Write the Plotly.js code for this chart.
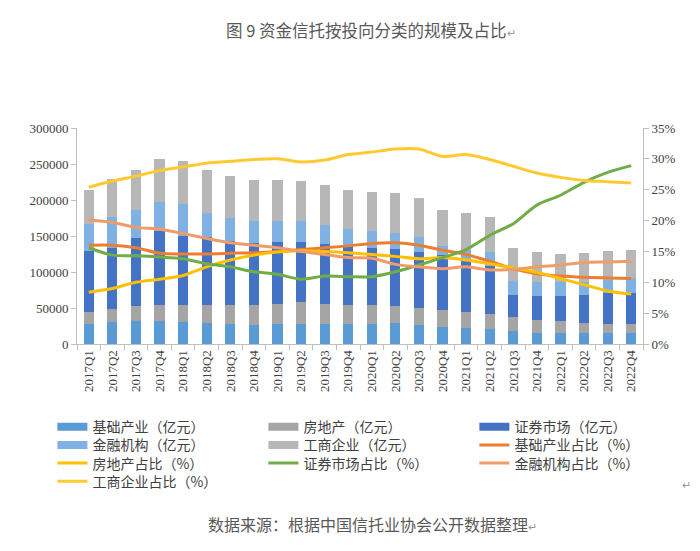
<!DOCTYPE html>
<html>
<head>
<meta charset="utf-8">
<script src="https://cdn.plot.ly/plotly-3.0.1.min.js"></script>
<style>
html,body{margin:0;padding:0;background:#fff;}
#chart{width:700px;height:551px;}
</style>
</head>
<body>
<div id="chart"></div>
<script>
const categories = ["2017Q1","2017Q2","2017Q3","2017Q4","2018Q1","2018Q2","2018Q3","2018Q4",
  "2019Q1","2019Q2","2019Q3","2019Q4","2020Q1","2020Q2","2020Q3","2020Q4",
  "2021Q1","2021Q2","2021Q3","2021Q4","2022Q1","2022Q2","2022Q3","2022Q4"];

// 规模（亿元）
const infraScale = [28200,30000,31400,31900,30500,28600,28200,26800,28200,28200,28200,28200,28200,28600,26800,24000,22200,21000,18500,15200,15200,15200,15200,15200];
const realEstateScale = [16100,18500,20800,22100,23500,25400,26300,27700,27200,29500,27700,26300,25800,24500,23500,22600,22600,20800,19400,18500,16200,13900,12500,12500];
const securitiesScale = [85000,85400,94600,103000,96500,94700,88600,85400,86800,84500,82600,82200,79900,78900,77100,77100,73200,66200,30400,33200,35500,39200,43300,43300];
const financeScale = [37800,42900,39300,40100,43400,33700,32300,31400,29100,29100,26300,23000,23100,22200,21300,13000,13000,20300,19400,19900,19100,17700,18500,20000];
const industryScale = [47100,51700,55400,60500,60000,59100,57300,56300,56300,55400,55400,54500,54500,55400,53500,49400,51100,47500,45300,40600,39400,40500,39800,39700];

// 占比（%）
const infraShare = [16.0,16.0,15.6,14.7,14.6,14.6,14.7,14.8,15.0,15.3,15.6,15.9,16.3,16.4,16.0,15.2,14.5,13.4,12.2,11.4,11.0,10.8,10.7,10.6];
const realEstateShare = [8.4,9.0,10.0,10.5,11.1,12.5,13.6,14.4,14.9,15.1,15.0,14.8,14.5,14.2,13.8,14.0,13.6,13.0,12.3,11.6,10.6,9.6,8.6,8.1];
const securitiesShare = [15.6,14.4,14.3,14.1,13.8,13.0,12.5,11.7,11.3,10.5,11.0,10.9,10.9,11.7,12.8,14.0,15.3,17.6,19.5,22.5,24.1,26.2,27.8,28.9];
const financeShare = [20.1,19.7,18.9,18.6,17.9,17.1,16.4,16.0,15.6,15.0,14.5,14.0,13.9,12.9,12.5,12.2,12.5,12.0,12.1,12.5,12.8,13.2,13.3,13.4];
const industryShare = [25.4,26.4,27.2,28.1,28.7,29.3,29.6,29.9,30.0,29.5,29.8,30.7,31.1,31.6,31.6,30.4,30.7,29.9,28.8,27.7,27.0,26.5,26.3,26.1];

const barSeries = [
  {name:"基础产业（亿元）", y:infraScale, color:"#5B9BD5", legend:"legend"},
  {name:"房地产（亿元）", y:realEstateScale, color:"#A5A5A5", legend:"legend"},
  {name:"证券市场（亿元）", y:securitiesScale, color:"#4472C4", legend:"legend"},
  {name:"金融机构（亿元）", y:financeScale, color:"#7FB1E3", legend:"legend2"},
  {name:"工商企业（亿元）", y:industryScale, color:"#B7B7B7", legend:"legend2"}
];
const lineSeries = [
  {name:"基础产业占比（%）", y:infraShare, color:"#ED7D31", legend:"legend2"},
  {name:"房地产占比（%）", y:realEstateShare, color:"#FFC000", legend:"legend3"},
  {name:"证券市场占比（%）", y:securitiesShare, color:"#70AD47", legend:"legend3"},
  {name:"金融机构占比（%）", y:financeShare, color:"#F09C68", legend:"legend3"},
  {name:"工商企业占比（%）", y:industryShare, color:"#FFCA30", legend:"legend4"}
];

const traces = [];
barSeries.forEach(s => traces.push({
  type:"bar", x:categories, y:s.y, name:s.name, marker:{color:s.color},
  showlegend:false, legendgroup:s.name, hoverinfo:"x+y+name"
}));
// legend entries for bars drawn as wide bands
barSeries.forEach(s => traces.push({
  type:"scatter", mode:"lines", x:[null], y:[null], name:s.name,
  line:{color:s.color, width:8}, legendgroup:s.name, showlegend:true, legend:s.legend
}));
lineSeries.forEach(s => traces.push({
  type:"scatter", mode:"lines", x:categories, y:s.y, name:s.name, yaxis:"y2", legend:s.legend,
  line:{color:s.color, width:3, shape:"spline", smoothing:0.8}
}));

const tickFont = {family:"'Times New Roman', 'Liberation Serif', 'DejaVu Serif', serif", size:13, color:"#404040"};
const legendFont = {family:"Noto Sans CJK SC, sans-serif", size:14, color:"#404040"};
const plotTop = 127.5, plotBottom = 344.5, plotH = plotBottom - plotTop;
function legendAt(centerY){
  return {orientation:"h", x:-0.0435, xanchor:"left", y:(plotBottom-(centerY-14.8))/plotH, yanchor:"top",
    font:legendFont, entrywidth:166, entrywidthmode:"pixels", itemwidth:30, traceorder:"normal",
    bgcolor:"rgba(0,0,0,0)"};
}
const layout = {
  width:700, height:551,
  paper_bgcolor:"#ffffff", plot_bgcolor:"#ffffff",
  margin:{l:77, r:57, t:plotTop, b:551-plotBottom, pad:0},
  barmode:"stack", bargap:0.57,
  showlegend:true,
  legend:legendAt(426.7),
  legend2:legendAt(445),
  legend3:legendAt(463.3),
  legend4:legendAt(481.5),
  xaxis:{type:"category", tickangle:-90, tickfont:tickFont, showline:true, linecolor:"#BFBFBF",
    linewidth:1, ticks:"outside", tickson:"boundaries", ticklen:5, tickcolor:"#BFBFBF",
    showgrid:false, zeroline:false},
  yaxis:{range:[0,300000], dtick:50000, tickformat:"d", tickfont:tickFont, showline:true,
    linecolor:"#BFBFBF", ticks:"outside", ticklen:5, tickcolor:"#BFBFBF", showgrid:false, zeroline:false},
  yaxis2:{overlaying:"y", side:"right", range:[0,35], dtick:5, ticksuffix:"%", tickfont:tickFont,
    showline:true, linecolor:"#BFBFBF", ticks:"outside", ticklen:5, tickcolor:"#BFBFBF",
    showgrid:false, zeroline:false},
  annotations:[
    {text:"图 9 资金信托按投向分类的规模及占比<span style='font-size:11px;color:#9a9a9a'>↵</span>", xref:"paper", yref:"paper",
     x:(371-77)/566, y:(plotBottom-29.5)/plotH, xanchor:"center", yanchor:"middle", showarrow:false,
     font:{family:"Noto Sans CJK SC, sans-serif", size:16.5, color:"#595959"}},
    {text:"数据来源：根据中国信托业协会公开数据整理<span style='font-size:11px;color:#9a9a9a'>↵</span>", xref:"paper", yref:"paper",
     x:(372-77)/566, y:(plotBottom-525)/plotH, xanchor:"center", yanchor:"middle", showarrow:false,
     font:{family:"Noto Sans CJK SC, sans-serif", size:16, color:"#595959"}},
    {text:"↵", xref:"paper", yref:"paper", x:(686-77)/566, y:(plotBottom-485)/plotH,
     xanchor:"center", yanchor:"middle", showarrow:false,
     font:{family:"Noto Sans CJK SC, sans-serif", size:11, color:"#9a9a9a"}}
  ]
};
Plotly.newPlot("chart", traces, layout, {displayModeBar:false, staticPlot:true});
</script>
</body>
</html>
